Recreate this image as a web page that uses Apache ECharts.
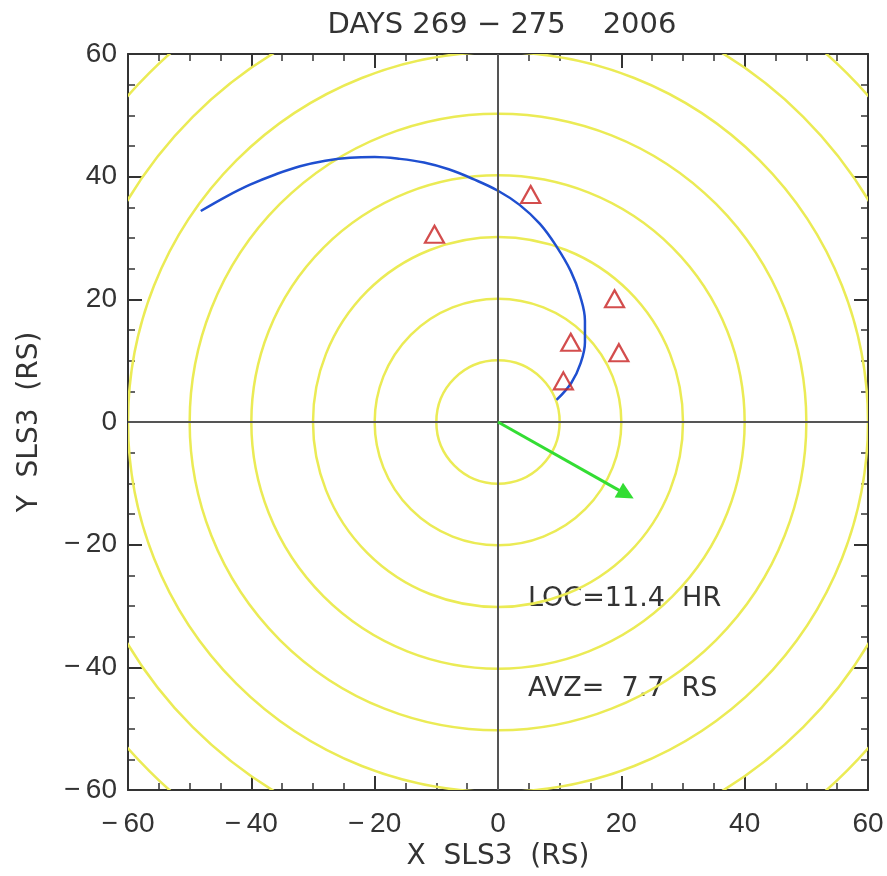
<!DOCTYPE html>
<html><head><meta charset="utf-8">
<script src="https://cdn.jsdelivr.net/npm/echarts@6/dist/echarts.min.js"></script>
<style>html,body{margin:0;padding:0;background:#fff}#c{width:887px;height:876px}</style>
</head><body><div id="c"></div>
<script>
const titleText = 'DAYS 269 \u2212 275    2006';
const xName = 'X  SLS3  (RS)';
const yName = 'Y  SLS3  (RS)';
const ringRadii = [10, 20, 30, 40, 50, 60, 70, 80];
const trajX = [-48.2,-44,-40.2,-36,-32.1,-28,-24,-20,-15.9,-12,-8,-4,0,3.5,6.8,9.5,11.8,13.3,14.1,14.1,13.4,11.9,9.5];
const trajY = [34.4,36.8,38.7,40.4,41.7,42.6,43.1,43.2,42.9,42.3,41.2,39.6,37.7,35.4,32.3,28.6,24.6,20.6,16.5,13,9.6,6.4,3.6];
const triX = [5.3,-10.3,18.9,11.8,19.6,10.6];
const triY = [37.1,30.6,20.1,13.0,11.3,6.7];
const arrowTip = [20.8, -11.8];
const locText = 'LOC=11.4  HR';
const avzText = 'AVZ=  7.7  RS';

const font = 'Liberation Sans';
const font2 = 'DejaVu Sans';
const axCol = '#333';
const fmt = v => (v < 0 ? '\u2212\u2009' + Math.abs(v) : String(v));
function mkX(pos, show) {
  return {type:'value', position:pos, min:-60, max:60, interval:20,
    axisLine:{show:true, onZero:false, lineStyle:{color:axCol, width:2}},
    axisTick:{show:true, inside:true, length:14, lineStyle:{color:axCol, width:2}},
    minorTick:{show:true, splitNumber:4, length:7, lineStyle:{color:axCol, width:1.5}},
    splitLine:{show:false},
    axisLabel:{show:show, formatter:fmt, fontFamily:font, fontSize:28, color:'#333', margin:20},
    name: show ? xName : '', nameLocation:'middle', nameGap:53,
    nameTextStyle:{fontFamily:font2, fontSize:28, color:'#333'}};
}
function mkY(pos, show) {
  return {type:'value', position:pos, min:-60, max:60, interval:20,
    axisLine:{show:true, onZero:false, lineStyle:{color:axCol, width:2}},
    axisTick:{show:true, inside:true, length:14, lineStyle:{color:axCol, width:2}},
    minorTick:{show:true, splitNumber:4, length:7, lineStyle:{color:axCol, width:1.5}},
    splitLine:{show:false},
    axisLabel:{show:show, formatter:fmt, fontFamily:font, fontSize:28, color:'#333', margin:11},
    name: show ? yName : '', nameLocation:'middle', nameGap:84, nameRotate:90,
    nameTextStyle:{fontFamily:font2, fontSize:28, color:'#333'}};
}
const chart = echarts.init(document.getElementById('c'), null, {renderer:'canvas'});
chart.setOption({
  animation:false,
  backgroundColor:'#fff',
  title:{text:titleText, left:497, textAlign:'center', top:6,
    textStyle:{fontFamily:font2, fontSize:29, fontWeight:'normal', color:'#333'}},
  grid:{left:128, right:19, top:54, bottom:82},
  xAxis:[mkX('bottom', true), mkX('top', false)],
  yAxis:[mkY('left', true), mkY('right', false)],
  series:[
    {type:'custom', clip:true, data: ringRadii.map(r => [0, 0, r]), encode:{x:0, y:1},
     renderItem:function(params, api){
       const c = api.coord([0,0]);
       const s = api.size([api.value(2), api.value(2)]);
       const cs = params.coordSys;
       return {type:'group', clipPath:{type:'rect', shape:{x:cs.x, y:cs.y, width:cs.width, height:cs.height}},
         children:[{type:'circle', shape:{cx:c[0], cy:c[1], r:s[0]},
           style:{fill:'none', stroke:'#ebeb55', lineWidth:2.5}}]};
     }, z:1},
    {type:'line', data:[], markLine:{silent:true, symbol:['none','none'], label:{show:false},
      lineStyle:{color:'#555', width:2, type:'solid'}, data:[{xAxis:0},{yAxis:0}]}, z:2},
    {type:'line', data: trajX.map((x,i)=>[x, trajY[i]]), smooth:0.4, showSymbol:false,
     lineStyle:{color:'#1f4fd0', width:2.5}, z:3},
    {type:'scatter', data: triX.map((x,i)=>[x, triY[i]]), symbol:'triangle', symbolSize:[19,17],
     itemStyle:{color:'rgba(0,0,0,0)', borderColor:'#c82020', borderWidth:2.2}, z:4},
    {type:'line', data:[], markLine:{silent:true, symbol:['none','triangle'], symbolSize:17, label:{show:false},
      itemStyle:{color:'#11dd11'},
      lineStyle:{color:'#33dd33', width:3, type:'solid'},
      data:[[{coord:[0,0]},{coord:arrowTip}]]}, z:5}
  ],
  graphic:[
    {type:'text', left:528, top:585, style:{text:locText, fontFamily:font2, fontSize:27, fill:'#333'}},
    {type:'text', left:528, top:675, style:{text:avzText, fontFamily:font2, fontSize:27, fill:'#333'}}
  ]
});
</script></body></html>
